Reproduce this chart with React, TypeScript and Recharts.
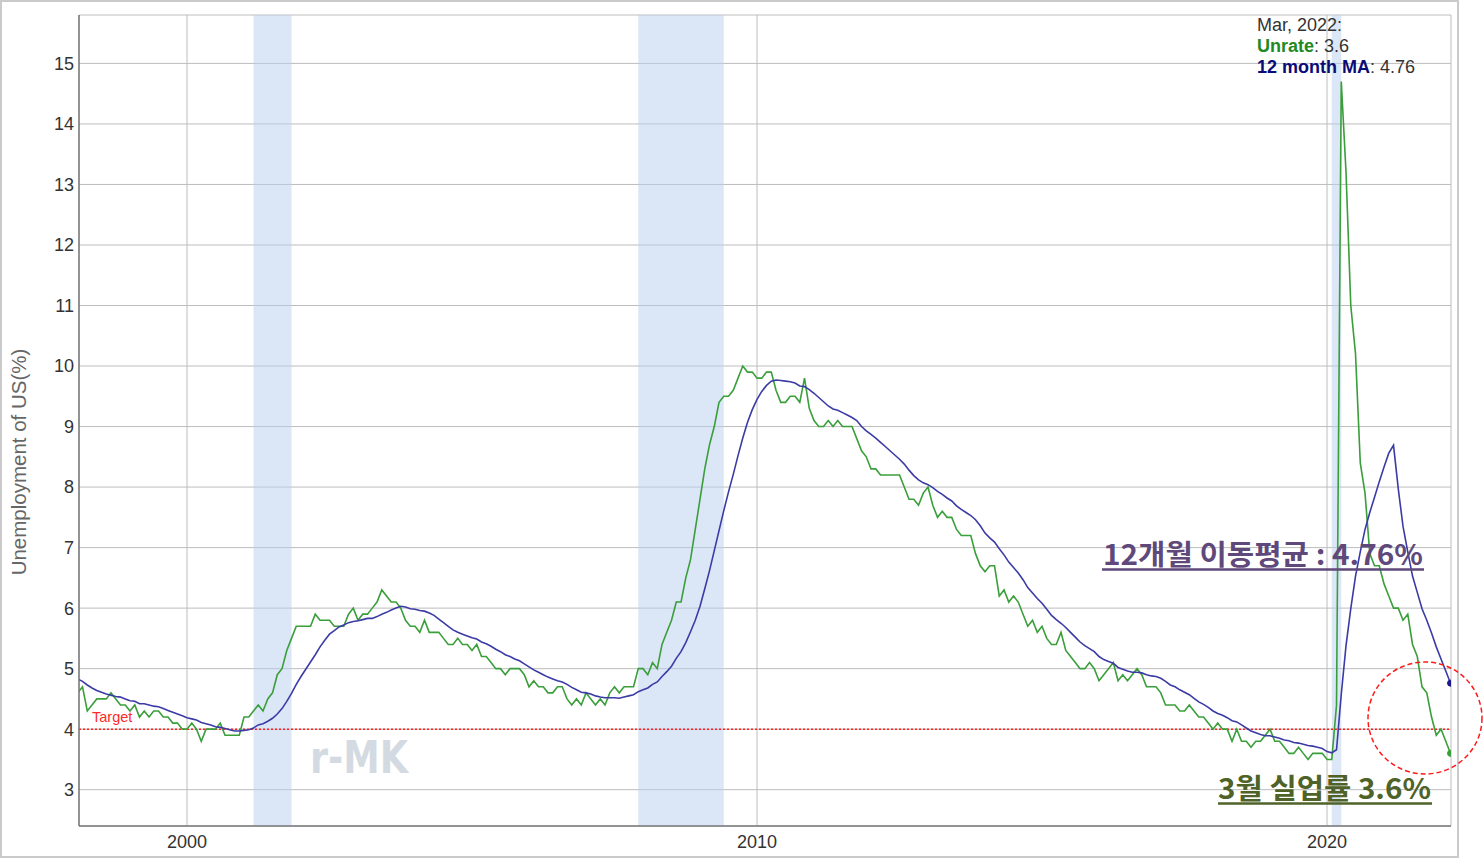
import React from "react";
import { LineChart, Line, XAxis, YAxis, CartesianGrid, ReferenceArea, ReferenceLine } from "recharts";

// monthly US unemployment rate (UNRATE), Jan 1998 .. Mar 2022
const START_YEAR = 1998;

// 1997 only feeds the first 12-month windows
const unratePrior = [5.3, 5.2, 5.2, 5.1, 4.9, 5.0, 4.9, 4.8, 4.9, 4.7, 4.6, 4.7];

const unrate = [
  4.6, 4.6, 4.7, 4.3, 4.4, 4.5, 4.5, 4.5, 4.6, 4.5, 4.4, 4.4,
  4.3, 4.4, 4.2, 4.3, 4.2, 4.3, 4.3, 4.2, 4.2, 4.1, 4.1, 4.0,
  4.0, 4.1, 4.0, 3.8, 4.0, 4.0, 4.0, 4.1, 3.9, 3.9, 3.9, 3.9,
  4.2, 4.2, 4.3, 4.4, 4.3, 4.5, 4.6, 4.9, 5.0, 5.3, 5.5, 5.7,
  5.7, 5.7, 5.7, 5.9, 5.8, 5.8, 5.8, 5.7, 5.7, 5.7, 5.9, 6.0,
  5.8, 5.9, 5.9, 6.0, 6.1, 6.3, 6.2, 6.1, 6.1, 6.0, 5.8, 5.7,
  5.7, 5.6, 5.8, 5.6, 5.6, 5.6, 5.5, 5.4, 5.4, 5.5, 5.4, 5.4,
  5.3, 5.4, 5.2, 5.2, 5.1, 5.0, 5.0, 4.9, 5.0, 5.0, 5.0, 4.9,
  4.7, 4.8, 4.7, 4.7, 4.6, 4.6, 4.7, 4.7, 4.5, 4.4, 4.5, 4.4,
  4.6, 4.5, 4.4, 4.5, 4.4, 4.6, 4.7, 4.6, 4.7, 4.7, 4.7, 5.0,
  5.0, 4.9, 5.1, 5.0, 5.4, 5.6, 5.8, 6.1, 6.1, 6.5, 6.8, 7.3,
  7.8, 8.3, 8.7, 9.0, 9.4, 9.5, 9.5, 9.6, 9.8, 10.0, 9.9, 9.9,
  9.8, 9.8, 9.9, 9.9, 9.6, 9.4, 9.4, 9.5, 9.5, 9.4, 9.8, 9.3,
  9.1, 9.0, 9.0, 9.1, 9.0, 9.1, 9.0, 9.0, 9.0, 8.8, 8.6, 8.5,
  8.3, 8.3, 8.2, 8.2, 8.2, 8.2, 8.2, 8.0, 7.8, 7.8, 7.7, 7.9,
  8.0, 7.7, 7.5, 7.6, 7.5, 7.5, 7.3, 7.2, 7.2, 7.2, 6.9, 6.7,
  6.6, 6.7, 6.7, 6.2, 6.3, 6.1, 6.2, 6.1, 5.9, 5.7, 5.8, 5.6,
  5.7, 5.5, 5.4, 5.4, 5.6, 5.3, 5.2, 5.1, 5.0, 5.0, 5.1, 5.0,
  4.8, 4.9, 5.0, 5.1, 4.8, 4.9, 4.8, 4.9, 5.0, 4.9, 4.7, 4.7,
  4.7, 4.6, 4.4, 4.4, 4.4, 4.3, 4.3, 4.4, 4.3, 4.2, 4.2, 4.1,
  4.0, 4.1, 4.0, 4.0, 3.8, 4.0, 3.8, 3.8, 3.7, 3.8, 3.8, 3.9,
  4.0, 3.8, 3.8, 3.7, 3.6, 3.6, 3.7, 3.6, 3.5, 3.6, 3.6, 3.6,
  3.5, 3.5, 4.4, 14.7, 13.2, 11.0, 10.2, 8.4, 7.9, 6.9, 6.7, 6.7,
  6.4, 6.2, 6.0, 6.0, 5.8, 5.9, 5.4, 5.2, 4.7, 4.6, 4.2, 3.9,
  4.0, 3.8, 3.6,
];

// NBER recessions, [year, month] start and end
const recessions = [
  [[2001, 3], [2001, 11]],
  [[2007, 12], [2009, 6]],
  [[2020, 2], [2020, 4]],
];

const xTicks = [2000, 2010, 2020];
const yTicks = [3, 4, 5, 6, 7, 8, 9, 10, 11, 12, 13, 14, 15];
const TARGET = 4;

const toT = (y: number, m: number) => y + (m - 1) / 12;

const all = [...unratePrior, ...unrate];
const rows = unrate.map((v, i) => {
  const j = i + unratePrior.length;
  const win = all.slice(j - 11, j + 1);
  const ma = win.reduce((a, b) => a + b, 0) / win.length;
  return { t: START_YEAR + i / 12, unrate: v, ma: Math.round(ma * 100) / 100 };
});
const last = rows[rows.length - 1];

const GREEN = "#3a9e3a";
const BLUE = "#3b3ba6";
const FONT = "'Liberation Sans', Arial, sans-serif";
const KFONT = "'Noto Sans CJK KR', 'Liberation Sans', sans-serif";

function endDot(color: string) {
  return (p: any) =>
    p.index === rows.length - 1 ? (
      <circle key={`end-${p.index}`} cx={p.cx} cy={p.cy} r={3} fill={color} stroke={color} />
    ) : (
      <g key={`d-${p.index}`} />
    );
}

export default function App() {
  return (
    <div
      style={{
        position: "absolute",
        left: 0,
        top: 0,
        width: 1483,
        height: 859,
        background: "#fff",
        fontFamily: FONT,
      }}
    >
      <div
        style={{
          position: "absolute",
          left: 0,
          top: 0,
          width: 1459,
          height: 858,
          boxSizing: "border-box",
          border: "2px solid #cacaca",
        }}
      />
      <LineChart width={1483} height={859} data={rows} margin={{ top: 15, right: 32, bottom: 0, left: 0 }}>
        {recessions.map(([a, b], i) => (
          <ReferenceArea
            key={i}
            x1={toT(a[0], a[1])}
            x2={toT(b[0], b[1])}
            fill="#b7cdee"
            fillOpacity={0.5}
            stroke="none"
          />
        ))}
        <CartesianGrid stroke="#bdbdbd" strokeWidth={1} />
        <XAxis
          type="number"
          dataKey="t"
          domain={[1998.105, 2022.175]}
          ticks={xTicks}
          allowDataOverflow
          height={33}
          tickLine={false}
          tickSize={6}
          tickMargin={3}
          axisLine={{ stroke: "#7a7a7a", strokeWidth: 1.5 }}
          tick={{ fill: "#333", fontSize: 18 }}
        />
        <YAxis
          type="number"
          domain={[2.4, 15.8]}
          ticks={yTicks}
          allowDataOverflow
          width={79}
          tickLine={false}
          tickSize={3}
          tickMargin={2}
          axisLine={{ stroke: "#7a7a7a", strokeWidth: 1.5 }}
          tick={{ fill: "#333", fontSize: 18 }}
        />
        <ReferenceLine y={TARGET} stroke="#ff2020" strokeWidth={1.5} strokeDasharray="2 2" />
        <Line
          type="linear"
          dataKey="unrate"
          stroke={GREEN}
          strokeWidth={1.6}
          dot={endDot(GREEN)}
          activeDot={false}
          isAnimationActive={false}
        />
        <Line
          type="linear"
          dataKey="ma"
          stroke={BLUE}
          strokeWidth={1.6}
          dot={endDot("#1a1a8a")}
          activeDot={false}
          isAnimationActive={false}
        />
      </LineChart>

      <svg
        width={1483}
        height={859}
        style={{ position: "absolute", left: 0, top: 0, pointerEvents: "none" }}
      >
        <text
          x={18}
          y={462}
          transform="rotate(-90 18 462)"
          textAnchor="middle"
          dominantBaseline="central"
          fontSize={20.5}
          fill="#666"
          fontFamily={FONT}
        >
          Unemployment of US(%)
        </text>
        <text x={92} y={722} fontSize={14.5} fill="#ff2a2a" fontFamily={FONT}>
          Target
        </text>
        <text
          x={310}
          y={773}
          fontSize={44}
          fontWeight="bold"
          fill="#d4dae2"
          fontFamily="'DejaVu Sans', sans-serif"
          textLength={98}
          lengthAdjust="spacingAndGlyphs"
        >
          r-MK
        </text>

        <g fontFamily={FONT} fontSize={18} fill="#333">
          <text x={1257} y={31}>Mar, 2022:</text>
          <text x={1257} y={52}>
            <tspan fill="#1f8a1f" fontWeight="bold">Unrate</tspan>
            <tspan>: {last.unrate}</tspan>
          </text>
          <text x={1257} y={73}>
            <tspan fill="#0b0b78" fontWeight="bold">12 month MA</tspan>
            <tspan>: {last.ma}</tspan>
          </text>
        </g>

        <text
          x={1103}
          y={565}
          fontSize={28}
          fontWeight="bold"
          fill="#5f497a"
          fontFamily={KFONT}
          textLength={320}
          lengthAdjust="spacingAndGlyphs"
        >
          {`12개월 이동평균 : ${last.ma}%`}
        </text>
        <line x1={1102} x2={1424} y1={569.5} y2={569.5} stroke="#5f497a" strokeWidth={2.5} />

        <text
          x={1218}
          y={799}
          fontSize={28}
          fontWeight="bold"
          fill="#4f6228"
          fontFamily={KFONT}
          textLength={213}
          lengthAdjust="spacingAndGlyphs"
        >
          {`3월 실업률 ${last.unrate}%`}
        </text>
        <line x1={1218} x2={1432} y1={803.5} y2={803.5} stroke="#4f6228" strokeWidth={2.5} />

        <ellipse
          cx={1425}
          cy={718}
          rx={57}
          ry={56}
          fill="none"
          stroke="#ff1a1a"
          strokeWidth={1.5}
          strokeDasharray="5 3"
        />
      </svg>
    </div>
  );
}
